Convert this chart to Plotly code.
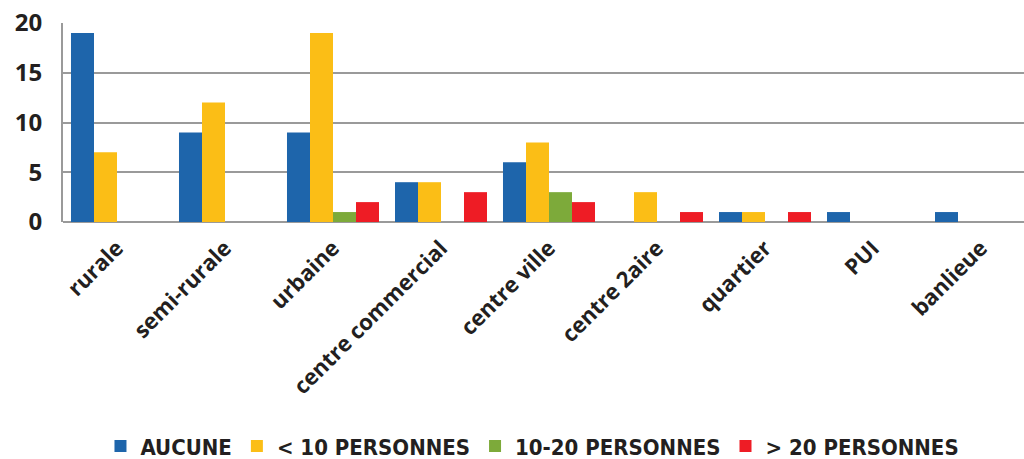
import plotly.graph_objects as go

categories = ["rurale", "semi-rurale", "urbaine", "centre commercial", "centre ville",
              "centre 2aire", "quartier", "PUI", "banlieue"]
series_names = ["AUCUNE", "< 10 PERSONNES", "10-20 PERSONNES", "> 20 PERSONNES"]
aucune = [19, 9, 9, 4, 6, 0, 1, 1, 1]
moins10 = [7, 12, 19, 4, 8, 3, 1, 0, 0]
de10a20 = [0, 0, 1, 0, 3, 0, 0, 0, 0]
plus20 = [0, 0, 2, 3, 2, 1, 1, 0, 0]
y_ticks = [0, 5, 10, 15, 20]

colors = ["#1E65AB", "#FBBE16", "#7DAA3A", "#EE1C25"]
values = [aucune, moins10, de10a20, plus20]

fig = go.Figure()
for name, vals, col in zip(series_names, values, colors):
    fig.add_trace(go.Bar(
        x=categories, y=[v if v else None for v in vals], name=name,
        marker=dict(color=col, line=dict(width=0)),
    ))

font_main = "Open Sans, DejaVu Sans, sans-serif"
fig.update_layout(
    width=1024, height=459,
    margin=dict(l=63, r=0, t=23, b=237, autoexpand=False),
    paper_bgcolor="white", plot_bgcolor="white",
    barmode="group", bargap=0.148, bargroupgap=0,
    showlegend=True,
    legend=dict(orientation="h", xref="container", yref="container",
                x=0.52, xanchor="center", y=0.028, yanchor="middle",
                font=dict(family="DejaVu Sans Condensed, Liberation Sans Narrow, sans-serif",
                          size=22, color="#231F20", weight="bold"),
                itemwidth=30, tracegroupgap=0),
    xaxis=dict(
        range=[-0.5, 8.5 - 11/108], tickangle=-45, automargin=False,
        tickfont=dict(family=font_main, size=22, color="#231F20", weight="bold"),
        showline=False, showgrid=False, ticks="", ticklabelstandoff=8,
    ),
    yaxis=dict(
        range=[0, 20], tickvals=y_ticks, automargin=False,
        tickfont=dict(family=font_main, size=24, color="#231F20", weight="bold"),
        showgrid=True, gridcolor="#9A9A9A", gridwidth=2,
        showline=True, linecolor="#9A9A9A", linewidth=2,
        zeroline=True, zerolinecolor="#9A9A9A", zerolinewidth=2,
        ticks="", ticklabelstandoff=14,
    ),
)

fig.write_html("out.html", config={"displayModeBar": False},
               post_script="document.body.style.margin='0';document.body.style.overflow='hidden';")
